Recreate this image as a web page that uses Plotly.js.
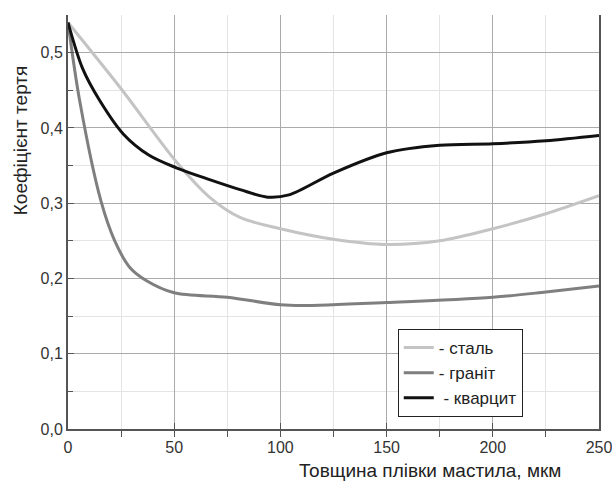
<!DOCTYPE html>
<html><head><meta charset="utf-8">
<script src="https://cdn.plot.ly/plotly-3.0.1.min.js"></script>
<style>body{margin:0;background:#fff}#c{width:612px;height:483px}</style>
</head><body><div id="c"></div>
<script>
const names = ['- сталь', '- граніт', ' - кварцит'];
const xTitle = 'Товщина плівки мастила, мкм';
const yTitle = 'Коефіцієнт тертя';
const steelX = [0, 25, 51, 67, 81, 100, 125, 150, 175, 200, 225, 250];
const steelY = [0.54, 0.452, 0.355, 0.307, 0.281, 0.266, 0.252, 0.245, 0.25, 0.266, 0.286, 0.31];
const graniteX = [0, 5.5, 15.5, 22, 29, 37, 50, 75, 100, 110, 150, 200, 225, 250];
const graniteY = [0.54, 0.436, 0.303, 0.25, 0.215, 0.197, 0.181, 0.175, 0.165, 0.164, 0.168, 0.175, 0.182, 0.19];
const quartzX = [0, 7, 15, 26, 38, 51, 67, 81, 94, 104, 125, 150, 175, 200, 225, 250];
const quartzY = [0.54, 0.478, 0.436, 0.392, 0.364, 0.347, 0.331, 0.318, 0.308, 0.311, 0.34, 0.367, 0.377, 0.379, 0.383, 0.39];
const colors = ['#c4c4c4', '#7f7f7f', '#111111'];

const data = [
  {x: steelX, y: steelY, name: names[0]},
  {x: graniteX, y: graniteY, name: names[1]},
  {x: quartzX, y: quartzY, name: names[2]}
].map((t, i) => Object.assign(t, {type: 'scatter', mode: 'lines',
  line: {color: colors[i], width: 3, shape: 'spline', smoothing: 0.9}}));

const layout = {
  width: 612, height: 483,
  margin: {l: 68, r: 13, t: 15, b: 54},
  paper_bgcolor: '#fff', plot_bgcolor: '#fff',
  font: {family: 'Liberation Sans, Arial, sans-serif', color: '#333', size: 16},
  separators: ', ',
  showlegend: true,
  legend: {x: 0.621, y: 0.2415, xanchor: 'left', yanchor: 'top',
    bordercolor: '#222', borderwidth: 1, bgcolor: '#fff',
    font: {size: 17, color: '#222'}, tracegroupgap: 0},
  xaxis: {range: [0, 250], dtick: 50, tick0: 0, showgrid: true, gridcolor: '#aaaaaa', gridwidth: 1,
    ticks: 'inside', ticklen: 6, tickcolor: '#555', showline: true, linecolor: '#555', linewidth: 2,
    zeroline: false, tickfont: {size: 16, color: '#333'}, ticklabelstandoff: 3, ticklabeloverflow: 'allow',
    minor: {dtick: 25, showgrid: true, gridcolor: '#e4e4e4', ticks: 'outside', ticklen: 6, tickcolor: '#555'}},
  yaxis: {range: [0, 0.55], dtick: 0.1, tick0: 0, tickformat: '.1f', showgrid: true, gridcolor: '#aaaaaa',
    ticks: 'inside', ticklen: 6, tickcolor: '#555', showline: true, linecolor: '#555', linewidth: 2,
    mirror: true, zeroline: false, tickfont: {size: 16, color: '#333'},
    minor: {dtick: 0.05, showgrid: true, gridcolor: '#e4e4e4', ticks: 'inside', ticklen: 5, tickcolor: '#555'}},
  annotations: [
    {text: xTitle, xref: 'paper', yref: 'paper', x: 0.682, y: -0.1, xanchor: 'center', yanchor: 'middle',
      showarrow: false, font: {size: 19, color: '#222'}},
    {text: yTitle, xref: 'paper', yref: 'paper', x: -0.09, y: 0.698, xanchor: 'center', yanchor: 'middle',
      textangle: -90, showarrow: false, font: {size: 19, color: '#222'}}
  ]
};
Plotly.newPlot('c', data, layout, {displayModeBar: false, staticPlot: true});
</script></body></html>
